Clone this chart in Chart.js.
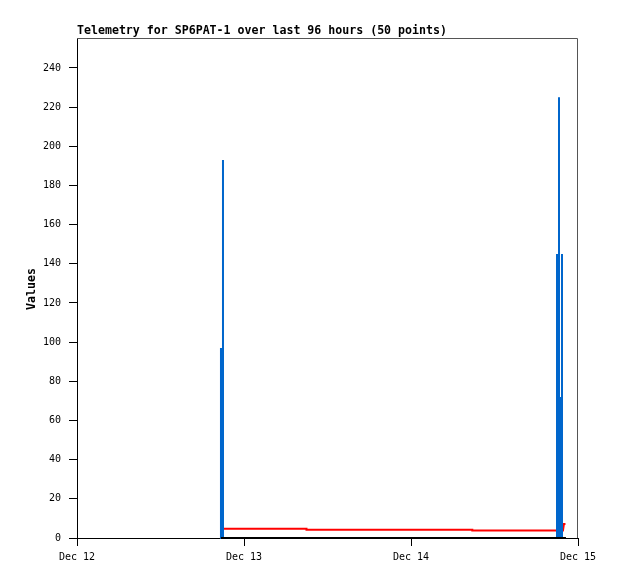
<!DOCTYPE html>
<html>
<head>
<meta charset="utf-8">
<script src="https://cdn.jsdelivr.net/npm/chart.js@4"></script>
<style>
  body { margin: 0; background: #fff; }
</style>
</head>
<body>
<canvas id="plot1" width="618" height="579"></canvas>
<script>
// Etiquetas del eje X (dias) y horas desde Dec 12 00:00
let etiquetasX = ['Dec 12', 'Dec 13', 'Dec 14', 'Dec 15'];
let horasTicks = [0, 24, 48, 72];

// Serie azul (picos)
let horasAzul = [20.69, 20.69, 20.69, 20.98, 20.98, 20.98,
  68.98, 68.98, 68.98, 69.27, 69.27, 69.27, 69.48, 69.48, 69.48, 69.70, 69.70, 69.70];
let valoresAzul = [0, 97, 0, 0, 193, 0,
  0, 145, 0, 0, 225, 0, 0, 72, 0, 0, 145, 0];

// Serie roja
let horasRojo = [20.98, 32.98, 32.98, 56.81, 56.81, 69.84, 69.98, 70.2];
let valoresRojo = [4.7, 4.7, 4.2, 4.2, 3.8, 3.8, 7.2, 7.2];

// Serie negra
let horasNegro = [20.69, 70.27];
let valoresNegro = [0, 0];

let titulo = 'Telemetry for SP6PAT-1 over last 96 hours (50 points)';
let tituloY = 'Values';

let puntos = (horas, valores) => horas.map((h, i) => ({ x: h, y: valores[i] }));

//Plugin para titulo, etiqueta Y y borde gris
let textos = {
  id: 'textos',
  beforeDatasetsDraw: (chart) => {
    let ctx = chart.ctx;
    let area = chart.chartArea;
    ctx.save();
    ctx.strokeStyle = '#555';
    ctx.lineWidth = 1;
    ctx.beginPath();
    ctx.moveTo(area.left, area.top + 0.5);
    ctx.lineTo(area.right - 0.5, area.top + 0.5);
    ctx.lineTo(area.right - 0.5, area.bottom);
    ctx.stroke();
    ctx.restore();
  },
  afterDraw: (chart) => {
    let ctx = chart.ctx;
    let area = chart.chartArea;
    ctx.save();
    ctx.fillStyle = '#000';
    ctx.font = 'bold 11.6px "DejaVu Sans Mono"';
    ctx.textAlign = 'left';
    ctx.textBaseline = 'middle';
    ctx.fillText(titulo, area.left, 30.5);
    ctx.translate(32, 289);
    ctx.rotate(-Math.PI / 2);
    ctx.textAlign = 'center';
    ctx.fillText(tituloY, 0, 0);
    ctx.restore();
  }
};

let plotRef = document.getElementById('plot1');

let config = {
  type: 'line',
  data: {
    datasets: [
      {
        label: 'negro',
        data: puntos(horasNegro, valoresNegro),
        borderColor: '#000000',
        borderWidth: 2,
        clip: 4
      },
      {
        label: 'azul',
        data: puntos(horasAzul, valoresAzul),
        borderColor: '#0066cc',
        borderWidth: 2,
        clip: 4
      },
      {
        label: 'rojo',
        data: puntos(horasRojo, valoresRojo),
        borderColor: '#ff0000',
        borderWidth: 2,
        clip: 4
      }
    ]
  },
  options: {
    responsive: false,
    animation: false,
    devicePixelRatio: 1,
    elements: {
      point: { radius: 0 },
      line: { tension: 0, borderCapStyle: 'butt' }
    },
    layout: { padding: { top: 38, right: 40, bottom: 0, left: 0 } },
    plugins: {
      legend: { display: false },
      tooltip: { enabled: false }
    },
    scales: {
      x: {
        type: 'linear',
        min: 0,
        max: 72,
        afterBuildTicks: (scale) => {
          scale.ticks = horasTicks.map(v => ({ value: v }));
        },
        afterFit: (scale) => { scale.height = 41; },
        ticks: {
          color: '#000',
          font: { family: 'DejaVu Sans Mono', size: 10 },
          padding: 5,
          maxRotation: 0,
          autoSkip: false,
          callback: (value) => etiquetasX[horasTicks.indexOf(value)]
        },
        grid: { drawOnChartArea: false, tickLength: 8, color: '#000' },
        border: { color: '#000', width: 1 }
      },
      y: {
        min: 0,
        max: 255.3,
        afterFit: (scale) => { scale.width = 77; },
        ticks: {
          stepSize: 20,
          includeBounds: false,
          color: '#000',
          font: { family: 'DejaVu Sans Mono', size: 10 },
          padding: 8
        },
        grid: { drawOnChartArea: false, tickLength: 8, color: '#000' },
        border: { color: '#000', width: 1 }
      }
    }
  },
  plugins: [textos]
};

let chart1 = new Chart(plotRef, config);
</script>
</body>
</html>
